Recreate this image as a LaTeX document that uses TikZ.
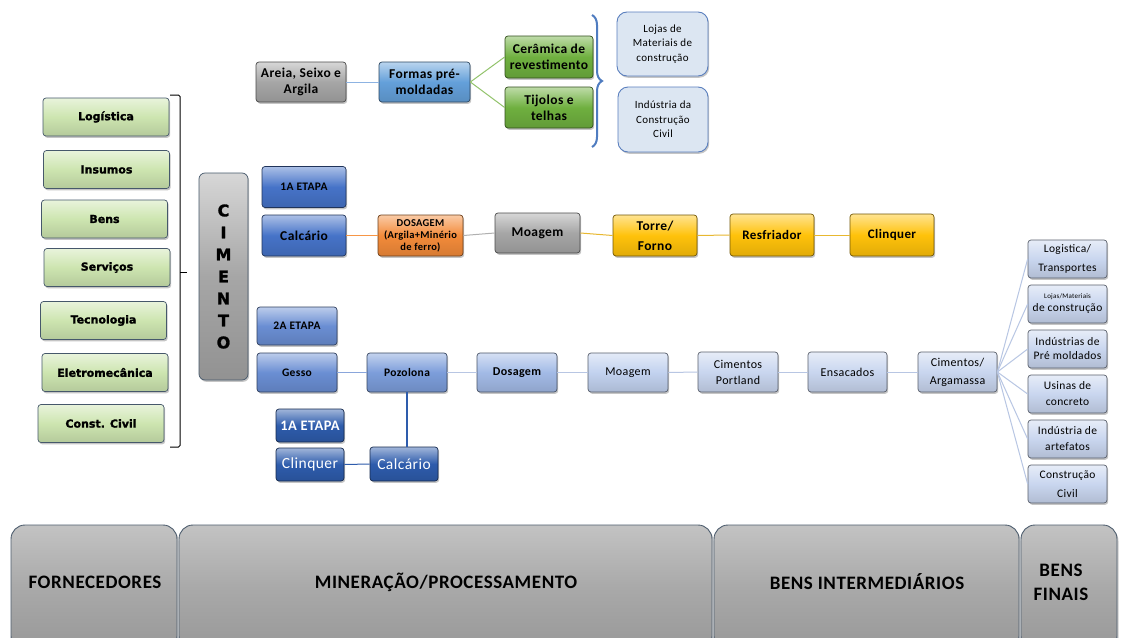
\documentclass[tikz,border=0pt]{standalone}
\usepackage{fontspec}
\setmainfont{Carlito}[LetterSpace=3]
\newfontfamily\heavy{DejaVu Sans}[BoldFeatures={FakeBold=1.6}]
\usetikzlibrary{shadows,decorations.pathreplacing}

\definecolor{sgreen}{HTML}{CDE5B0}
\definecolor{sedge}{HTML}{46586B}
\definecolor{gry}{HTML}{A6A6A6}
\definecolor{fblue}{HTML}{64A0DA}
\definecolor{vgreen}{HTML}{6FB03F}
\definecolor{pale}{HTML}{DCE6F2}
\definecolor{paleedge}{HTML}{5A7FBE}
\definecolor{royal}{HTML}{4673C8}
\definecolor{orng}{HTML}{F38B3A}
\definecolor{gold}{HTML}{FFC20A}
\definecolor{blueA}{HTML}{6A8ED3}
\definecolor{blueB}{HTML}{7C9DDA}
\definecolor{blueC}{HTML}{A2BAE6}
\definecolor{blueD}{HTML}{C2D2EF}
\definecolor{blueE}{HTML}{C9D6EF}
\definecolor{navy}{HTML}{2E5CAC}
\definecolor{band}{HTML}{A9A9A9}
\definecolor{bandedge}{HTML}{4D5D6E}
\definecolor{lnblue}{HTML}{8DB3E2}
\definecolor{lngreen}{HTML}{92C36B}
\definecolor{lnorange}{HTML}{F79646}
\definecolor{lngray}{HTML}{B0B0B0}
\definecolor{lngold}{HTML}{E8B830}
\definecolor{lnrow}{HTML}{8AA6DB}
\definecolor{lnfan}{HTML}{B8C6E3}
\definecolor{bracecol}{HTML}{4F7CC0}

\tikzset{
  bx/.style={rounded corners=3pt, inner sep=0pt, align=center, line width=0.7pt,
    drop shadow={shadow xshift=1.2pt, shadow yshift=-1.8pt, opacity=0.45}},
  sz/.style 2 args={minimum width=#1pt, minimum height=#2pt},
  shd/.style={top color=#1!45!white, bottom color=#1!88!black, middle color=#1, draw=#1!45!black},
  supplier/.style={bx, shd=sgreen, draw=sedge, sz={126}{38},
    font=\heavy\bfseries\fontsize{11}{13}\selectfont},
  pillar/.style={bx, rounded corners=6pt, shd=gry, draw=sedge, sz={49}{207},
    font=\heavy\bfseries\fontsize{16}{22}\selectfont},
  topbox/.style={bx, shd=#1, font=\bfseries\fontsize{13.5}{16}\selectfont},
  market/.style={bx, rounded corners=10pt, fill=pale, draw=paleedge, line width=0.9pt, sz={91}{64},
    font=\fontsize{11}{14.5}\selectfont},
  stage/.style={bx, shd=#1, sz={84}{41}, font=\bfseries\fontsize{13.5}{20}\selectfont},
  rowbox/.style={bx, shd=#1, sz={80}{39}, font=\fontsize{12}{16}\selectfont},
  darkbox/.style={bx, shd=navy, sz={68}{33}, text=white, font=\fontsize{15.5}{18}\selectfont},
  enduse/.style={bx, shd=blueE, sz={79}{38}, font=\fontsize{11.5}{19}\selectfont},
  band/.style={rounded corners=14pt, top color=band!70!white, bottom color=band!90!black,
    middle color=band, draw=bandedge, line width=0.9pt, inner sep=0pt,
    drop shadow={shadow xshift=1.5pt, shadow yshift=-2pt, opacity=0.4}},
  bandtext/.style={align=center, font=\bfseries\fontsize{19}{24}\selectfont},
  ln/.style={draw=#1, line width=1pt}
}

\begin{document}
\begin{tikzpicture}[x=1pt,y=-1pt]
\useasboundingbox (0,0) rectangle (1121,637);
\clip (0,0) rectangle (1121,637);
\fill[white] (0,0) rectangle (1121,637);

% suppliers column
\node[supplier] (log)   at (106,117)   {Logística};
\node[supplier] (ins)   at (106.5,169.5) {Insumos};
\node[supplier] (bens)  at (104.5,219) {Bens};
\node[supplier] (serv)  at (107,267.5) {Serviços};
\node[supplier] (tec)   at (103.5,320.5) {Tecnologia};
\node[supplier] (elet)  at (105,372.5) {Eletromecânica};
\node[supplier] (civil) at (101,423.5) {Const. Civil};

% square bracket gathering the suppliers
\draw[line width=1pt, rounded corners=1.5pt] (170,95) -- (180,95) -- (180,447) -- (170,447);
\coordinate (bracketmid) at (180,272);
\coordinate (brackettip) at (187,272);
\draw[line width=1pt] (bracketmid) -- (brackettip);

% cement pillar
\node[pillar] (cim) at (223.5,276.5) {C\\I\\M\\E\\N\\T\\O};

% ceramic branch
\node[topbox=gry, sz={90}{40}] (areia) at (301,82) {Areia, Seixo e\\Argila};
\node[topbox=fblue, sz={91}{40}] (formas) at (424.5,82) {Formas pré-\\moldadas};
\node[topbox=vgreen, sz={88}{42}] (ceram) at (549,57) {Cerâmica de\\revestimento};
\node[topbox=vgreen, sz={88}{41}] (tijolo) at (549,107.5) {Tijolos e\\telhas};
\draw[ln=lnblue] (areia.east) -- (formas.west);
\draw[ln=lngreen] (formas.east) -- (ceram.west);
\draw[ln=lngreen] (formas.east) -- (tijolo.west);

\draw[bracecol, line width=2pt, decorate, decoration={brace, amplitude=10pt}] (592,15) -- (592,147);
\node[market] (lojas) at (662.5,44) {Lojas de\\Materiais de\\construção};
\node[market, sz={90}{65}] (indcc) at (663,119.5) {Indústria da\\Construção\\Civil};

% clinker line
\node[stage=royal, font=\bfseries\fontsize{11.5}{12}\selectfont] (etapa1) at (304,187) {1A ETAPA};
\node[stage=royal] (calc) at (304,235.5) {Calcário};
\node[stage=orng, sz={85}{41}, font=\bfseries\fontsize{10.5}{12}\selectfont] (dos) at (420.5,235.5) {DOSAGEM\\(Argila+Minério\\de ferro)};
\node[stage=gry, sz={85}{40}] (moag) at (537.5,233) {Moagem};
\node[stage=gold] (torre) at (655,235.5) {Torre/\\Forno};
\node[stage=gold, sz={84}{42}, font=\bfseries\fontsize{13}{15}\selectfont] (resf) at (772,235) {Resfriador};
\node[stage=gold, sz={84}{42}, font=\bfseries\fontsize{13}{15}\selectfont] (clq) at (892,235) {Clinquer};
\draw[ln=lnorange] (calc.east) -- (dos.west);
\draw[ln=lngray] (dos.east) -- (moag.west);
\draw[ln=lngold] (moag.east) -- (torre.west);
\draw[ln=lngold] (torre.east) -- (resf.west);
\draw[ln=lngold] (resf.east) -- (clq.west);

% cement line
\node[rowbox=blueA, font=\bfseries\fontsize{11.5}{14}\selectfont, sz={80}{38}] (etapa2) at (297,326) {2A ETAPA};
\node[rowbox=blueA, font=\bfseries\fontsize{11.5}{14}\selectfont] (gesso) at (297,372.5) {Gesso};
\node[rowbox=blueB, font=\bfseries\fontsize{11.5}{14}\selectfont] (poz) at (407,372.5) {Pozolona};
\node[rowbox=blueC, font=\bfseries\fontsize{12}{14}\selectfont] (dos2) at (517,372.5) {Dosagem};
\node[rowbox=blueD] (moag2) at (628,372.5) {Moagem};
\node[rowbox=blueE, sz={80}{40}] (port) at (738,372) {Cimentos\\Portland};
\node[rowbox=blueE, sz={79}{40}] (ensac) at (847.5,372) {Ensacados};
\node[rowbox=blueE, sz={79}{40}, font=\fontsize{12}{18}\selectfont] (arg) at (957.5,372) {Cimentos/\\Argamassa};
\draw[ln=lnrow] (gesso.east) -- (poz.west);
\draw[ln=lnfan] (poz.east) -- (dos2.west);
\draw[ln=lnfan] (dos2.east) -- (moag2.west);
\draw[ln=lnfan] (moag2.east) -- (port.west);
\draw[ln=lnfan] (port.east) -- (ensac.west);
\draw[ln=lnfan] (ensac.east) -- (arg.west);

\node[darkbox, font=\bfseries\fontsize{14.5}{18}\selectfont] (etapa1b) at (310,425.5) {1A ETAPA};
\node[darkbox] (clq2) at (310,464.5) {Clinquer};
\node[darkbox, sz={68}{34}] (calc2) at (404,464) {Calcário};
\draw[ln=navy] (clq2.east) -- (calc2.west);
\draw[draw=navy, line width=2pt] (calc2.north -| poz.south) -- (poz.south);

% end uses
\node[enduse] (r1) at (1067.5,259) {Logistica/\\Transportes};
\node[enduse, font=\fontsize{11.5}{13}\selectfont] (r2) at (1067.5,304) {{\fontsize{7}{8}\selectfont Lojas/Materiais}\\de construção};
\node[enduse, font=\fontsize{11.5}{14}\selectfont] (r3) at (1067.5,349) {Indústrias de\\Pré moldados};
\node[enduse, font=\fontsize{11.5}{16}\selectfont] (r4) at (1067.5,394) {Usinas de\\concreto};
\node[enduse, font=\fontsize{11.5}{16}\selectfont] (r5) at (1067.5,439) {Indústria de\\artefatos};
\node[enduse] (r6) at (1067.5,484) {Construção\\Civil};
\foreach \r in {r1,r2,r3,r4,r5,r6}
  \draw[ln=lnfan] (arg.east) -- (\r.west);

% value-chain bands
\path[band] (11,525) rectangle (177,650);
\path[band] (179,525) rectangle (712,650);
\path[band] (714,525) rectangle (1019,650);
\path[band] (1021,525) rectangle (1117,650);
\node[bandtext] (forn) at (95,582) {FORNECEDORES};
\node[bandtext] (miner) at (446,582) {MINERAÇÃO/PROCESSAMENTO};
\node[bandtext] (bint) at (867,582) {BENS INTERMEDIÁRIOS};
\node[bandtext] (bfin) at (1061,582) {BENS\\FINAIS};
\end{tikzpicture}
\end{document}
